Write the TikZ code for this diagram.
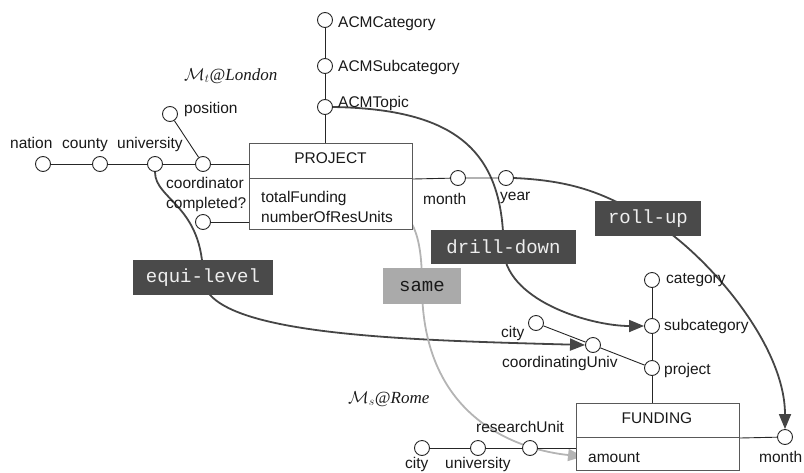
\documentclass[tikz,border=0pt]{standalone}
\usepackage{fontspec}
\setmainfont{Liberation Sans}
\newfontfamily\opmono{Liberation Mono}
\newfontfamily\siteserif{Liberation Serif}
\usetikzlibrary{arrows.meta}
\definecolor{opdark}{HTML}{4A4A4A}
\definecolor{optext}{HTML}{EEEEEE}
\definecolor{flowc}{HTML}{454545}
\definecolor{samec}{HTML}{B4B4B4}
\definecolor{samebox}{HTML}{AAAAAA}
\pgfdeclarelayer{bg}
\pgfsetlayers{bg,main}
\begin{document}
\begin{tikzpicture}[x=1pt,y=-1pt,
  lbl/.style={inner sep=0pt, anchor=base west, font=\fontsize{15.5}{18}\selectfont, text=black!90},
  ttl/.style={lbl, anchor=base},
  site/.style={inner sep=0pt, anchor=base west, font=\siteserif\itshape\fontsize{17}{20}\selectfont, text=black!90},
  circ/.style={circle, draw=black!85, line width=0.9pt, fill=white, minimum size=15pt, inner sep=0pt},
  entity/.style={draw=black!65, line width=1pt, fill=white, inner sep=0pt, anchor=north west, minimum width=163pt},
  op/.style={fill=opdark, text=optext, font=\opmono\fontsize{19}{22}\selectfont, inner sep=0pt},
  sameop/.style={op, fill=samebox, text=black!90},
  link/.style={draw=black!85, line width=0.9pt},
  flow/.style={draw=flowc, line width=1.8pt, -{Triangle[length=15pt,width=12pt]}},
  sameflow/.style={flow, draw=samec},
]
\useasboundingbox (0,0) rectangle (804,472);

% entity boxes
\node[entity, minimum height=35pt] (projH) at (249,143) {};
\node[entity, minimum height=51pt] (projA) at (249,178) {};
\node[entity, minimum height=34pt] (fundH) at (576,403) {};
\node[entity, minimum height=33pt] (fundA) at (576,437) {};
\node[ttl] (projT) at (330.5,163) {PROJECT};
\node[lbl] (totalL) at (261,202) {totalFunding};
\node[lbl] (resunitsL) at (261,222) {numberOfResUnits};
\node[ttl] (fundT) at (657,423) {FUNDING};
\node[lbl] (amountL) at (588,462) {amount};

% circles
\node[circ] (nation) at (43,164) {};
\node[circ] (county) at (100,164) {};
\node[circ] (univ) at (155,164) {};
\node[circ] (coordinator) at (203,164) {};
\node[circ] (position) at (170,114) {};
\node[circ] (completed) at (203,222) {};
\node[circ] (acmCat) at (325,20) {};
\node[circ] (acmSub) at (325,66) {};
\node[circ] (acmTopic) at (325,107) {};
\node[circ] (monthT) at (458,178) {};
\node[circ] (year) at (506,178) {};
\node[circ] (category) at (652,280) {};
\node[circ] (subcat) at (652,326) {};
\node[circ] (projectC) at (652,368) {};
\node[circ] (cityM) at (536,323) {};
\node[circ] (coordU) at (593,345) {};
\node[circ] (monthB) at (785,437) {};
\node[circ] (cityB) at (422,448) {};
\node[circ] (univB) at (478,448) {};
\node[circ] (resU) at (530,448) {};

% labels
\node[lbl] (nationL) at (10,148) {nation};
\node[lbl] (countyL) at (62,148) {county};
\node[lbl] (univL) at (117,148) {university};
\node[lbl] (positionL) at (184,113) {position};
\node[lbl] (coordL) at (166,188) {coordinator};
\node[lbl] (complL) at (166,208) {completed?};
\node[lbl] (acmCatL) at (338,27) {ACMCategory};
\node[lbl] (acmSubL) at (338,71) {ACMSubcategory};
\node[lbl] (acmTopicL) at (338,107) {ACMTopic};
\node[lbl] (monthTL) at (423,204) {month};
\node[lbl] (yearL) at (500,200) {year};
\node[lbl] (categoryL) at (666,283) {category};
\node[lbl] (subcatL) at (664,330) {subcategory};
\node[lbl] (projectL) at (664,374) {project};
\node[lbl] (cityML) at (501,337) {city};
\node[lbl] (coordUL) at (502,367) {coordinatingUniv};
\node[lbl] (monthBL) at (759,462) {month};
\node[lbl] (resUL) at (476,432) {researchUnit};
\node[lbl] (cityBL) at (405,468) {city};
\node[lbl] (univBL) at (445,468) {university};
\node[site] (london) at (184,80) {$\mathcal{M}_t$@London};
\node[site] (rome) at (348,403) {$\mathcal{M}_s$@Rome};

% operation boxes
\node[op, minimum width=140pt, minimum height=35pt] (equi) at (203,277.5) {equi-level};
\node[op, minimum width=145pt, minimum height=34pt] (drill) at (503.5,247) {drill-down};
\node[op, minimum width=106pt, minimum height=35pt] (roll) at (648,218.5) {roll-up};
\node[sameop, minimum width=78pt, minimum height=36pt] (same) at (422,286) {same};

% structure links
\draw[link] (nation) -- (county) -- (univ) -- (coordinator) -- (coordinator -| projH.west);
\draw[link] (position) -- (coordinator);
\draw[link] (completed) -- (completed -| projA.west);
\draw[link] (acmCat) -- (acmSub) -- (acmTopic) -- (acmTopic |- projH.north);
\draw[link] (projH.south east) -- (monthT) -- (year);
\draw[link] (category) -- (subcat) -- (projectC) -- (projectC |- fundH.north);
\draw[link] (cityM) -- (coordU) -- (projectC);
\draw[link] (fundH.south east) -- (monthB);
\draw[link] (cityB) -- (univB) -- (resU) -- (resU -| fundA.west);

% operation flows
\begin{pgfonlayer}{bg}
\draw[flow] (acmTopic.east) .. controls (455,109) and (503,150) .. (drill.center)
  .. controls (503,300) and (590,326) .. (subcat.west);
\draw[flow] (year.east) .. controls (580,181) and (608,196.5) .. (roll.center)
  .. controls (698,246) and (785,340) .. (monthB.north);
\draw[flow] (univ.south) .. controls (155,200) and (203,205) .. (equi.center)
  .. controls (203,335) and (400,340) .. (coordU.west);
\draw[sameflow, shorten <=7pt, shorten >=5pt] (totalL.east) .. controls (410,198) and (422,225) .. (same.center)
  .. controls (422,420) and (520,450) .. (amountL.west);
\end{pgfonlayer}
\end{tikzpicture}
\end{document}
